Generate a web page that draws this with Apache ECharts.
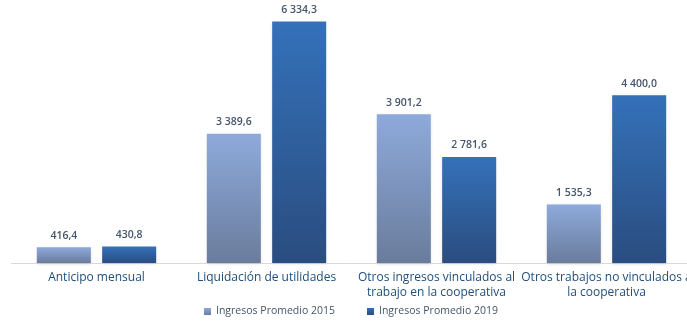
<!DOCTYPE html>
<html><head><meta charset="utf-8">
<script src="https://cdn.jsdelivr.net/npm/echarts@6/dist/echarts.min.js"></script>
<style>html,body{margin:0;padding:0;background:#fff;overflow:hidden}#wrap{width:687px;height:322px;overflow:hidden}#c{width:700px;height:322px}</style>
</head><body><div id="wrap"><div id="c"></div></div>
<script>
const categories = ["Anticipo mensual", "Liquidación de utilidades", "Otros ingresos vinculados al\ntrabajo en la cooperativa", "Otros trabajos no vinculados a\nla cooperativa"];
const seriesNames = ["Ingresos Promedio 2015", "Ingresos Promedio 2019"];
const values2015 = [416.4, 3389.6, 3901.2, 1535.3];
const values2019 = [430.8, 6334.3, 2781.6, 4400.0];

function fmt(v){
  const parts = v.toFixed(1).split('.');
  const int = parts[0].replace(/\B(?=(\d{3})+(?!\d))/g, ' ');
  return int + ',' + parts[1];
}
const font = 'Open Sans';
const chart = echarts.init(document.getElementById('c'));
function grad(a,b){return new echarts.graphic.LinearGradient(0,0,0,1,[{offset:0,color:a},{offset:1,color:b}]);}
chart.setOption({
  animation:false,
  grid:{left:11.5,width:680,top:0,bottom:59,containLabel:false},
  legend:{bottom:0,left:199,itemWidth:7,itemHeight:7,itemGap:32,icon:'rect',
    textStyle:{color:'#44546a',fontSize:10.5,fontFamily:font}},
  xAxis:{type:'category',data:categories,
    axisLine:{lineStyle:{color:'#d9d9d9'}},axisTick:{show:false},
    axisLabel:{interval:0,color:'#1f4e79',fontSize:12,fontFamily:font,margin:7,lineHeight:15}},
  yAxis:{type:'value',min:0,max:6900,show:false,splitLine:{show:false}},
  series:[
    {name:seriesNames[0],type:'bar',data:values2015,barWidth:54,barGap:'21%',
      itemStyle:{color:grad('#8eaadb','#6a7c9c'),shadowColor:'rgba(0,0,0,0.15)',shadowBlur:3,shadowOffsetY:1},
      label:{show:true,position:'top',distance:6,color:'#44546a',fontWeight:600,fontSize:10.5,fontFamily:font,formatter:p=>fmt(p.value)}},
    {name:seriesNames[1],type:'bar',data:values2019,barWidth:54,
      itemStyle:{color:grad('#3471b9','#2a4d80'),shadowColor:'rgba(0,0,0,0.15)',shadowBlur:3,shadowOffsetY:1},
      label:{show:true,position:'top',distance:6,color:'#44546a',fontWeight:600,fontSize:10.5,fontFamily:font,formatter:p=>fmt(p.value)}}
  ]
});
</script></body></html>
